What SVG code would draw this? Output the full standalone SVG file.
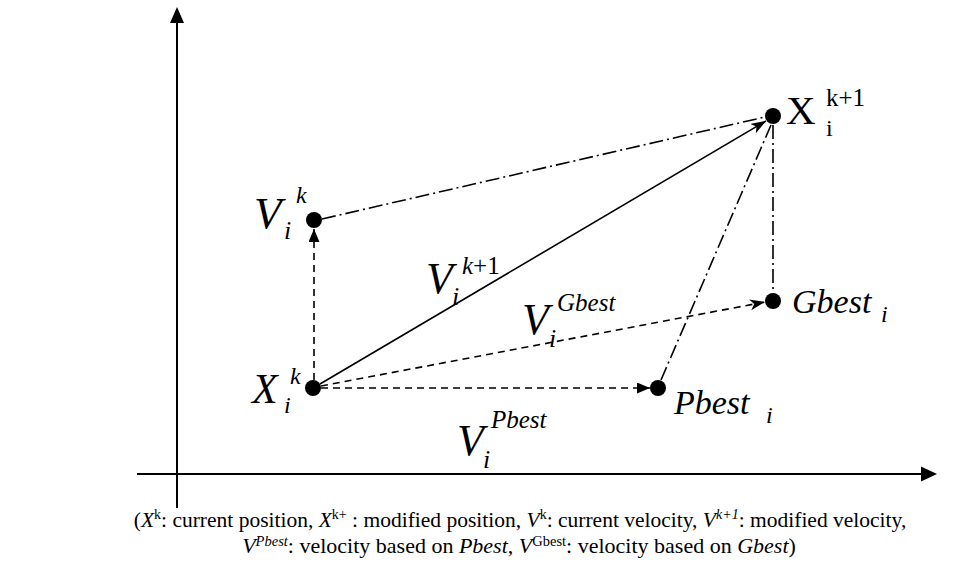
<svg xmlns="http://www.w3.org/2000/svg" width="970" height="581" viewBox="0 0 970 581">
<style>
.t{font-family:"Liberation Serif","Times New Roman",serif;fill:#000}
.it{font-style:italic}
.ln{stroke:#000;stroke-width:1.6;fill:none}
.dash{stroke-dasharray:7 5}
.dd{stroke-dasharray:14 4 2 4}
.ax{stroke:#000;stroke-width:2;fill:none}
</style>
<defs>
<marker id="tri" markerUnits="userSpaceOnUse" markerWidth="14" markerHeight="12" refX="13" refY="5.5" orient="auto"><path d="M0,0 L13,5.5 L0,11 z" fill="#000"/></marker>
<marker id="barb" markerUnits="userSpaceOnUse" markerWidth="16" markerHeight="12" refX="15" refY="5.5" orient="auto"><path d="M0,0 L15,5.5 L0,11 L4,5.5 z" fill="#000"/></marker>
</defs>
<g id="axes">
<line class="ax" x1="177" y1="508" x2="177" y2="22"/>
<path d="M177,7 L170,23 L184,23 z" fill="#000"/>
<line class="ax" x1="137" y1="474" x2="922" y2="474"/>
<path d="M937,474 L921,466.5 L921,481.5 z" fill="#000"/>
</g>
<g id="connectors">
<line class="ln dash" x1="314" y1="380" x2="314" y2="229" marker-end="url(#tri)"/>
<line class="ln dash" x1="321" y1="388" x2="650" y2="388" marker-end="url(#tri)"/>
<line class="ln dash" x1="321" y1="386" x2="765" y2="302" marker-end="url(#barb)"/>
<line class="ln" x1="320" y1="384" x2="766" y2="121" marker-end="url(#barb)"/>
<line class="ln dd" x1="322" y1="219" x2="765" y2="117"/>
<line class="ln dd" x1="661" y1="380" x2="771" y2="125"/>
<line class="ln dd" x1="773" y1="125" x2="773" y2="293"/>
</g>
<g id="node-xik">
<circle cx="313" cy="388" r="8"/>
<text class="t it" x="252" y="403" font-size="42">X</text>
<text class="t it" x="284" y="413" font-size="24">i</text>
<text class="t it" x="290" y="384" font-size="24">k</text>
</g>
<g id="node-vik">
<circle cx="314" cy="220" r="8"/>
<text class="t it" x="254" y="228" font-size="45">V</text>
<text class="t it" x="284" y="239" font-size="26">i</text>
<text class="t it" x="296" y="203" font-size="24">k</text>
</g>
<g id="node-xk1">
<circle cx="773" cy="116" r="8"/>
<text class="t" x="786" y="124" font-size="41">X</text>
<text class="t" x="826" y="106" font-size="25">k+1</text>
<text class="t" x="826" y="136" font-size="24">i</text>
</g>
<g id="node-gbest">
<circle cx="773" cy="301" r="8"/>
<text class="t it" x="792" y="313" font-size="34">Gbest</text>
<text class="t it" x="881" y="322" font-size="24">i</text>
</g>
<g id="node-pbest">
<circle cx="658" cy="388" r="8"/>
<text class="t it" x="674" y="414" font-size="34">Pbest</text>
<text class="t it" x="766" y="423" font-size="24">i</text>
</g>
<g id="label-vk1">
<text class="t it" x="426" y="293" font-size="44">V</text>
<text class="t it" x="452" y="305" font-size="26">i</text>
<text class="t" x="462" y="274" font-size="25"><tspan class="it">k</tspan>+1</text>
</g>
<g id="label-vgbest">
<text class="t it" x="522" y="334" font-size="44">V</text>
<text class="t it" x="549" y="347" font-size="26">i</text>
<text class="t it" x="557" y="311" font-size="25">Gbest</text>
</g>
<g id="label-vpbest">
<text class="t it" x="457" y="455" font-size="44">V</text>
<text class="t it" x="483" y="468" font-size="26">i</text>
<text class="t it" x="491" y="428" font-size="25">Pbest</text>
</g>
<g id="caption">
<text class="t" x="520" y="527" font-size="21.5" text-anchor="middle">(<tspan class="it">X</tspan><tspan font-size="14" dy="-8">k</tspan><tspan dy="8">: current position, </tspan><tspan class="it">X</tspan><tspan font-size="14" dy="-8">k+</tspan><tspan dy="8"> : modified position, </tspan><tspan class="it">V</tspan><tspan font-size="14" dy="-8">k</tspan><tspan dy="8">: current velocity, </tspan><tspan class="it">V</tspan><tspan class="it" font-size="14" dy="-8">k+1</tspan><tspan dy="8">: modified velocity,</tspan></text>
<text class="t" x="519" y="553" font-size="22" text-anchor="middle"><tspan class="it">V</tspan><tspan class="it" font-size="14.5" dy="-7">Pbest</tspan><tspan dy="7">: velocity based on </tspan><tspan class="it">Pbest</tspan>, <tspan class="it">V</tspan><tspan font-size="14.5" dy="-7">Gbest</tspan><tspan dy="7">: velocity based on </tspan><tspan class="it">Gbest</tspan>)</text>
</g>
</svg>
